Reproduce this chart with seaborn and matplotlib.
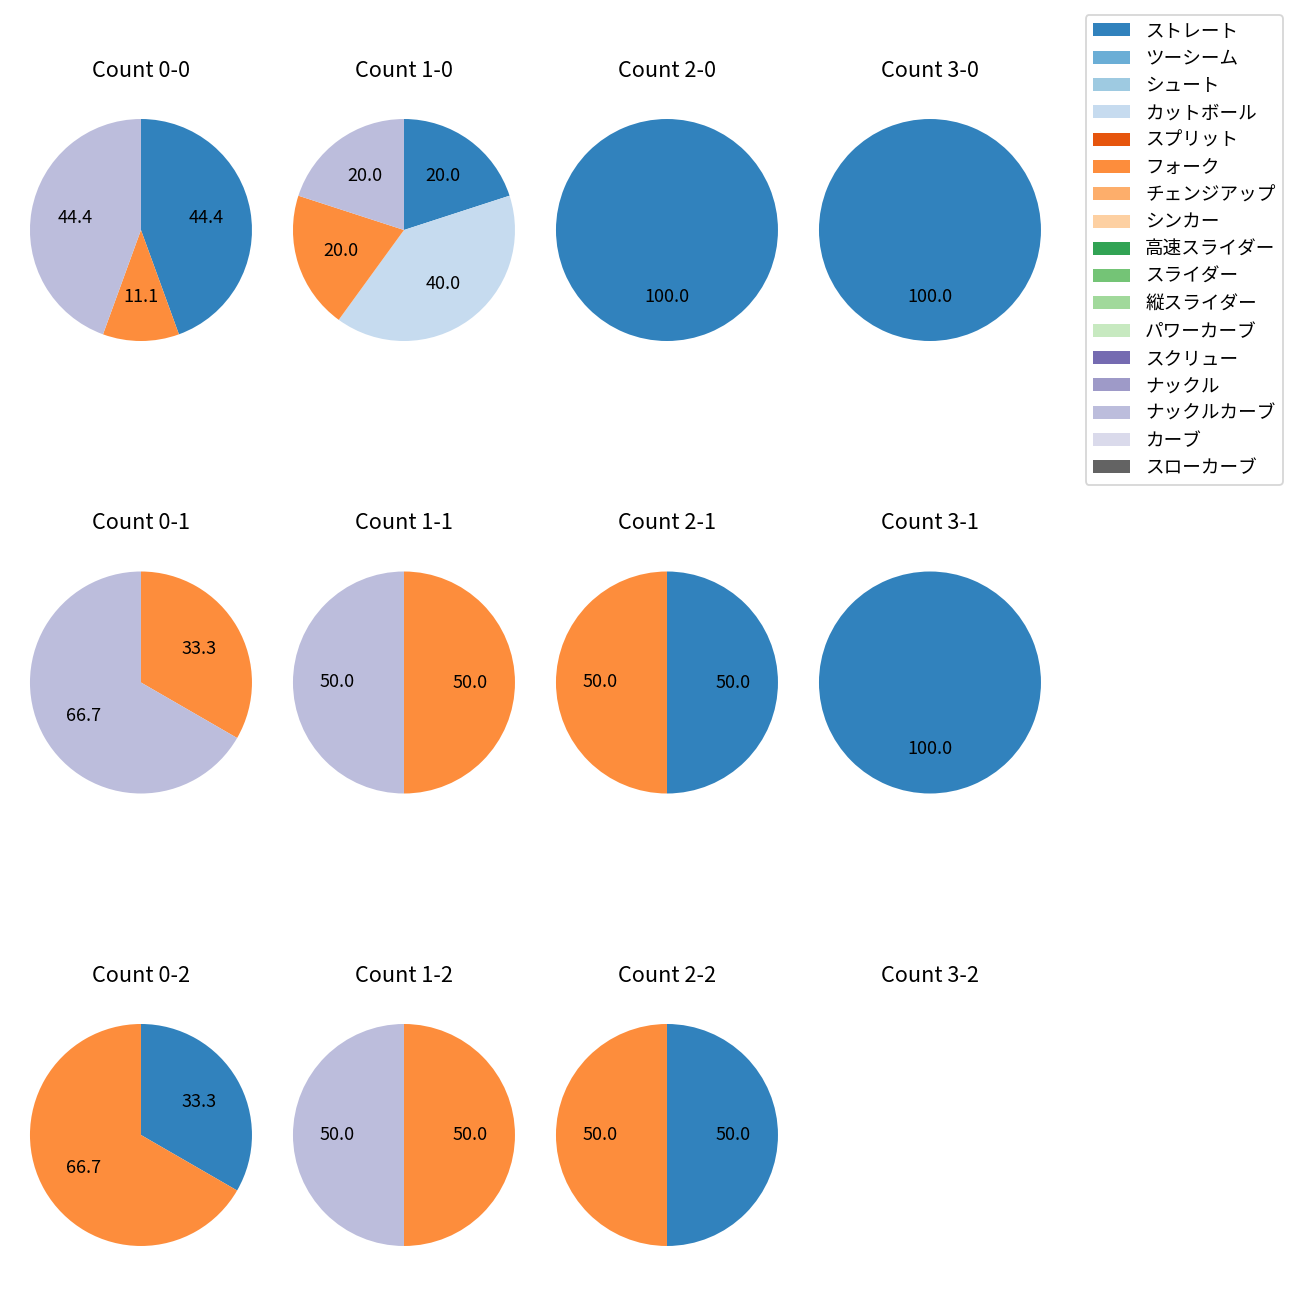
import matplotlib
matplotlib.use("Agg")
import matplotlib.pyplot as plt
from matplotlib.patches import Patch
import seaborn as sns

plt.rcParams['font.family'] = ['Noto Sans CJK JP', 'DejaVu Sans']

pitch_types = ["ストレート", "ツーシーム", "シュート", "カットボール", "スプリット", "フォーク",
               "チェンジアップ", "シンカー", "高速スライダー", "スライダー", "縦スライダー",
               "パワーカーブ", "スクリュー", "ナックル", "ナックルカーブ", "カーブ", "スローカーブ"]

counts = ["0-0", "1-0", "2-0", "3-0",
          "0-1", "1-1", "2-1", "3-1",
          "0-2", "1-2", "2-2", "3-2"]

# pitch counts per ball-strike count (pitch type -> number)
pitches = {
    "0-0": {"ストレート": 4, "フォーク": 1, "ナックルカーブ": 4},
    "1-0": {"ストレート": 1, "カットボール": 2, "フォーク": 1, "ナックルカーブ": 1},
    "2-0": {"ストレート": 1},
    "3-0": {"ストレート": 1},
    "0-1": {"フォーク": 1, "ナックルカーブ": 2},
    "1-1": {"フォーク": 1, "ナックルカーブ": 1},
    "2-1": {"ストレート": 1, "フォーク": 1},
    "3-1": {"ストレート": 1},
    "0-2": {"ストレート": 1, "フォーク": 2},
    "1-2": {"フォーク": 1, "ナックルカーブ": 1},
    "2-2": {"ストレート": 1, "フォーク": 1},
    "3-2": {},
}

palette = sns.color_palette("tab20c", 20)
color_map = {p: palette[i] for i, p in enumerate(pitch_types)}

fig, axes = plt.subplots(3, 4, figsize=(10, 10), dpi=130)
fig.subplots_adjust(left=0.0017, right=0.8221, top=0.9298, bottom=0.0202,
                    wspace=-0.0523, hspace=0.6306)

for ax, c in zip(axes.flat, counts):
    d = pitches[c]
    labels = [p for p in pitch_types if d.get(p, 0) > 0]
    vals = [d[p] for p in labels]
    if vals:
        ax.pie(vals, colors=[color_map[p] for p in labels], startangle=90,
               counterclock=False, autopct="%.1f",
               textprops=dict(fontsize=10, color="black"))
    else:
        ax.set_xlim(-1.25, 1.25)
        ax.set_ylim(-1.25, 1.25)
        ax.set_aspect("equal")
    ax.axis("off")
    ax.set_title(f"Count {c}", fontsize=12, pad=8)

handles = [Patch(facecolor=color_map[p], label=p) for p in pitch_types]
fig.legend(handles=handles, loc="upper right", bbox_to_anchor=(1283 / 1300, 1 - 15 / 1300),
           borderaxespad=0, fontsize=10.3, frameon=True)

fig.savefig("out.png", dpi=130)
